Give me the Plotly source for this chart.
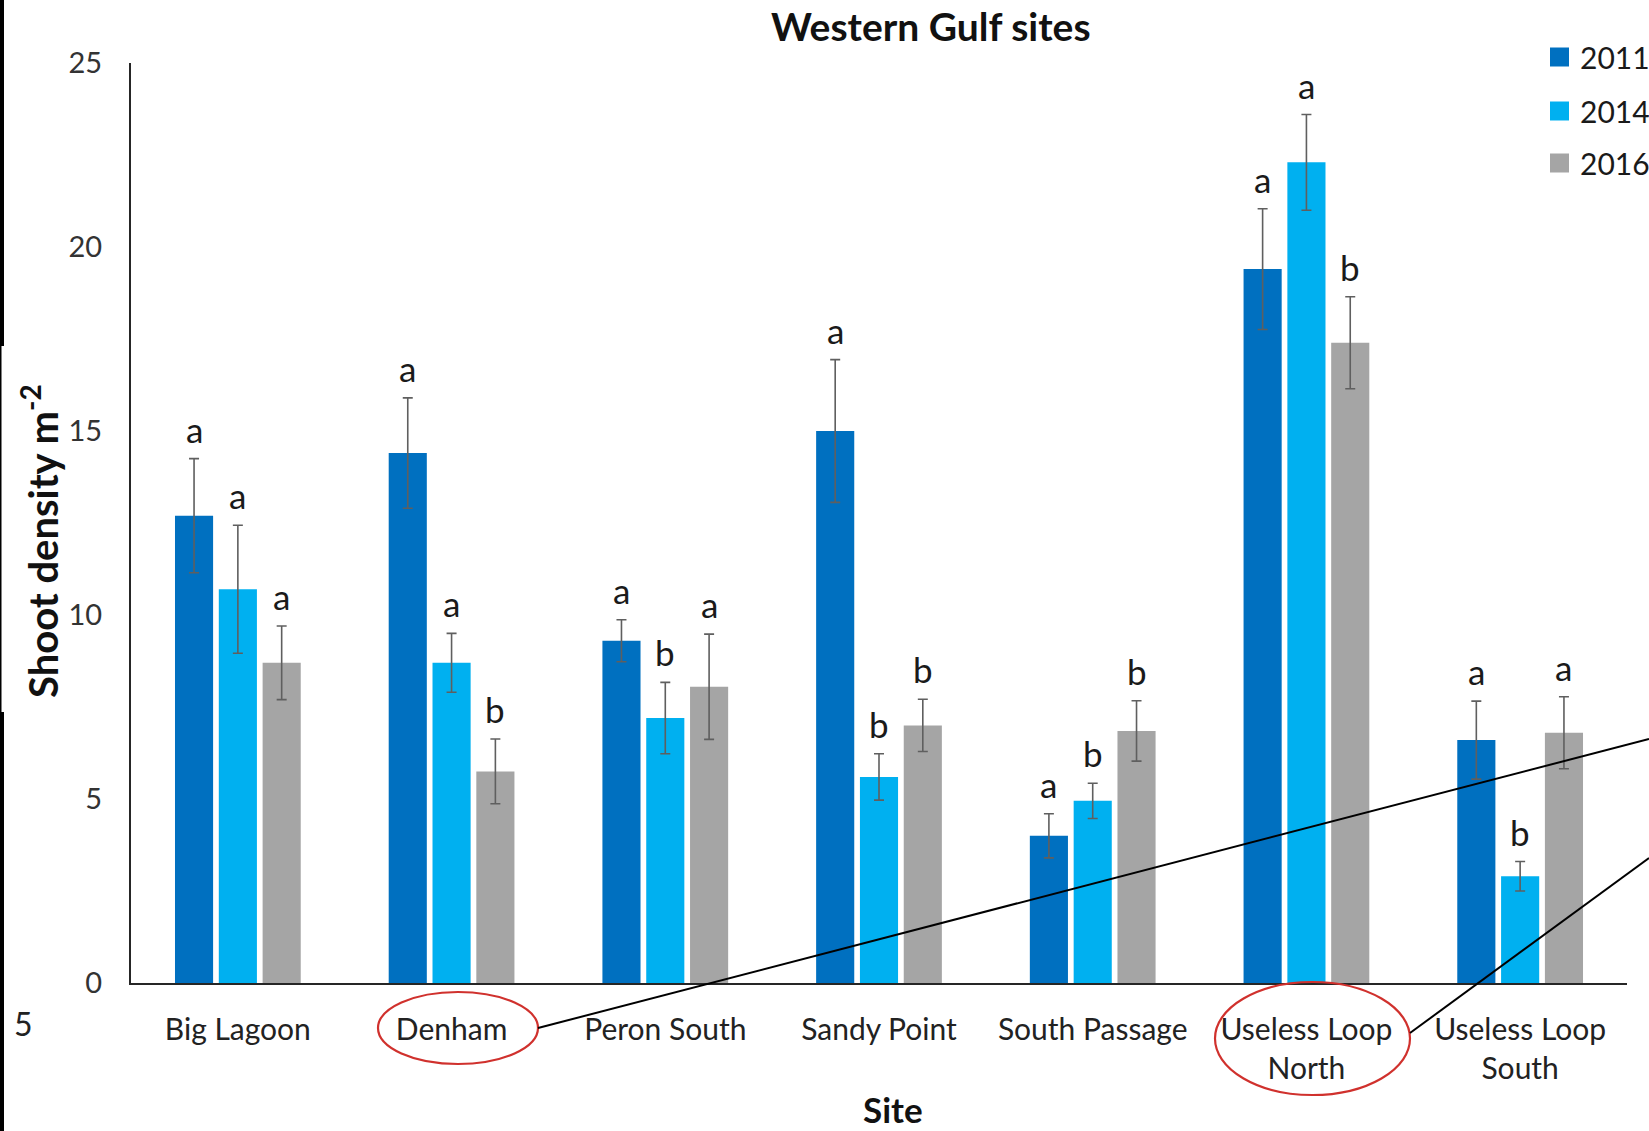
import plotly.graph_objects as go

# Shoot density by site and survey year
sites = ["Big Lagoon", "Denham", "Peron South", "Sandy Point",
         "South Passage", "Useless Loop<br>North", "Useless Loop<br>South"]
years = ["2011", "2014", "2016"]

density_2011 = [12.7, 14.4, 9.3, 15.0, 4.0, 19.4, 6.6]
density_2014 = [10.7, 8.7, 7.2, 5.6, 4.95, 22.3, 2.9]
density_2016 = [8.7, 5.75, 8.05, 7.0, 6.85, 17.4, 6.8]

se_2011 = [1.55, 1.5, 0.57, 1.94, 0.6, 1.64, 1.06]
se_2014 = [1.74, 0.8, 0.97, 0.63, 0.48, 1.3, 0.4]
se_2016 = [1.0, 0.88, 1.43, 0.71, 0.82, 1.25, 0.98]

letters_2011 = ["a", "a", "a", "a", "a", "a", "a"]
letters_2014 = ["a", "a", "b", "b", "b", "a", "b"]
letters_2016 = ["a", "b", "a", "b", "b", "b", "a"]

colors = ["#0070C0", "#00B0F0", "#A5A5A5"]

series = [
    (years[0], density_2011, se_2011, letters_2011, colors[0]),
    (years[1], density_2014, se_2014, letters_2014, colors[1]),
    (years[2], density_2016, se_2016, letters_2016, colors[2]),
]

FONT = "Lato"
W_PX, H_PX = 1649, 1131
L, R, T, B = 131, 1627, 63, 983   # plot area edges in pixels


def px_x(px):
    return (px - L) / (R - L)


def px_y(py):
    return (B - py) / (B - T)


fig = go.Figure()

for name, vals, errs, letters, col in series:
    fig.add_trace(go.Bar(
        name=name, x=sites, y=vals,
        marker=dict(color=col, line=dict(width=0)),
        error_y=dict(type="data", array=errs, visible=True,
                     color="#5F5F5F", thickness=1.6, width=5),
        showlegend=False,
        offsetgroup=name,
    ))

# significance letters above each error bar
annotations = []
for k, (name, vals, errs, letters, col) in enumerate(series):
    for i, site in enumerate(sites):
        annotations.append(dict(
            x=site, y=vals[i] + errs[i], xref="x", yref="y",
            text=letters[i], showarrow=False,
            xanchor="center", yanchor="bottom", yshift=7,
            xshift=(k - 1) * 43.8,
            font=dict(family=FONT, size=35, color="#1a1a1a"),
        ))

# title, axis titles and stray page number
annotations += [
    dict(text="<b>Western Gulf sites</b>", x=px_x(931), y=px_y(26),
         xref="paper", yref="paper", showarrow=False,
         xanchor="center", yanchor="middle",
         font=dict(family=FONT, size=39, color="#111")),
    dict(text="<b>Site</b>", x=px_x(893), y=px_y(1109),
         xref="paper", yref="paper", showarrow=False,
         xanchor="center", yanchor="middle", borderpad=0,
         font=dict(family=FONT, size=35, color="#111")),
    dict(text="<b>Shoot density m<sup>-2</sup></b>", x=px_x(40), y=px_y(541),
         xref="paper", yref="paper", showarrow=False, textangle=-90,
         xanchor="center", yanchor="middle",
         font=dict(family=FONT, size=40, color="#111")),
    dict(text="5", x=px_x(23), y=px_y(1024),
         xref="paper", yref="paper", showarrow=False,
         xanchor="center", yanchor="middle",
         font=dict(family=FONT, size=32, color="#222")),
]

# legend drawn as swatches and labels
shapes = []
legend_y = [57, 111, 163]
for (name, _, _, _, col), ly in zip(series, legend_y):
    shapes.append(dict(type="rect", xref="paper", yref="paper",
                       x0=px_x(1550), x1=px_x(1569),
                       y0=px_y(ly - 9.5), y1=px_y(ly + 9.5),
                       fillcolor=col, line=dict(width=0)))
    annotations.append(dict(text=name, x=px_x(1578), y=px_y(ly),
                            xref="paper", yref="paper", showarrow=False,
                            xanchor="left", yanchor="middle",
                            font=dict(family=FONT, size=30, color="#1a1a1a")))

# red highlight ellipses around two site labels
shapes.append(dict(type="circle", xref="paper", yref="paper",
                   x0=px_x(378), x1=px_x(538), y0=px_y(992), y1=px_y(1064),
                   line=dict(color="#D0312D", width=2.2)))
shapes.append(dict(type="circle", xref="paper", yref="paper",
                   x0=px_x(1215), x1=px_x(1410), y0=px_y(982), y1=px_y(1095),
                   line=dict(color="#D0312D", width=2.2)))
# connector lines leading off to the right
shapes.append(dict(type="line", xref="paper", yref="paper",
                   x0=px_x(538), y0=px_y(1028), x1=px_x(1649), y1=px_y(739),
                   line=dict(color="#000", width=2)))
shapes.append(dict(type="line", xref="paper", yref="paper",
                   x0=px_x(1410), y0=px_y(1033), x1=px_x(1649), y1=px_y(858),
                   line=dict(color="#000", width=2)))
# dark strips along the left page edge
shapes.append(dict(type="rect", xref="paper", yref="paper",
                   x0=px_x(0), x1=px_x(4), y0=px_y(0), y1=px_y(346),
                   fillcolor="#000", line=dict(width=0)))
shapes.append(dict(type="rect", xref="paper", yref="paper",
                   x0=px_x(0), x1=px_x(1.5), y0=px_y(346), y1=px_y(712),
                   fillcolor="#000", line=dict(width=0)))
shapes.append(dict(type="rect", xref="paper", yref="paper",
                   x0=px_x(0), x1=px_x(4), y0=px_y(712), y1=px_y(1131),
                   fillcolor="#000", line=dict(width=0)))

fig.update_layout(
    width=W_PX, height=H_PX,
    margin=dict(l=L, r=W_PX - R, t=T, b=H_PX - B, pad=0),
    paper_bgcolor="white", plot_bgcolor="white",
    barmode="group", bargap=0.385, bargroupgap=0.13,
    font=dict(family=FONT, color="#222"),
    annotations=annotations, shapes=shapes,
    showlegend=False,
)

fig.update_xaxes(
    showline=True, linecolor="#262626", linewidth=2,
    showgrid=False, ticks="", zeroline=False,
    tickfont=dict(family=FONT, size=30, color="#222"),
    ticklabelstandoff=19,
)
fig.update_yaxes(
    range=[0, 25], tickvals=[0, 5, 10, 15, 20, 25],
    showline=True, linecolor="#262626", linewidth=2,
    showgrid=False, ticks="", zeroline=False,
    tickfont=dict(family=FONT, size=29, color="#333"),
    ticklabelstandoff=21,
)

fig.write_html("out.html")
